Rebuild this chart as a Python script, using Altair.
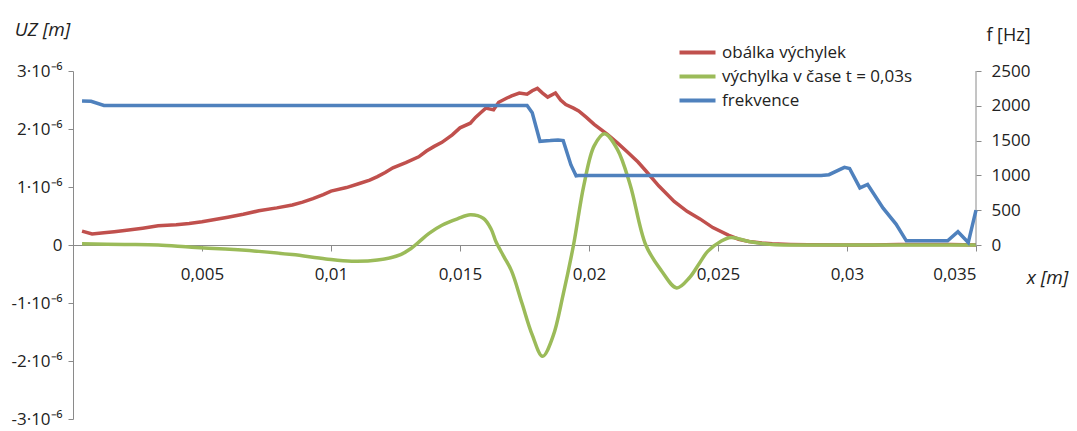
import altair as alt
import pandas as pd

# ---- data ----
names = ["obálka výchylek", "výchylka v čase t = 0,03s", "frekvence"]
colors = ["#c0504d", "#9bbb59", "#4f81bd"]

# envelope (UZ, in 1e-6 m)
env_x = [0.00035, 0.00074, 0.0012, 0.0016, 0.0020, 0.0027, 0.0033, 0.0040, 0.0045,
         0.0050, 0.0055, 0.0060, 0.0066, 0.0072, 0.0079, 0.0085, 0.0089, 0.0093,
         0.0097, 0.0100, 0.0106, 0.0111, 0.0115, 0.0118, 0.0121, 0.0124, 0.0129,
         0.0134, 0.0137, 0.0140, 0.0143, 0.0147, 0.0150, 0.0154, 0.0156, 0.0158,
         0.0160, 0.0163, 0.0165, 0.0168, 0.0170, 0.0173, 0.0176, 0.0178, 0.0180,
         0.0182, 0.0184, 0.0187, 0.0189, 0.0191, 0.0194, 0.0196, 0.0199, 0.0202,
         0.0207, 0.0211, 0.0215, 0.0219, 0.0222, 0.0227, 0.0233, 0.0238, 0.0243,
         0.0248, 0.0254, 0.0258, 0.0262, 0.0267, 0.0271, 0.0278, 0.0285, 0.0300,
         0.0310, 0.0320, 0.0330, 0.0340, 0.0350]
env_y = [0.24, 0.19, 0.21, 0.23, 0.25, 0.29, 0.33, 0.35, 0.37,
         0.40, 0.44, 0.48, 0.53, 0.59, 0.64, 0.69, 0.74, 0.80,
         0.87, 0.93, 0.99, 1.06, 1.12, 1.18, 1.25, 1.33, 1.42,
         1.52, 1.62, 1.70, 1.77, 1.90, 2.02, 2.10, 2.20, 2.28,
         2.36, 2.33, 2.46, 2.53, 2.57, 2.62, 2.60, 2.66, 2.70,
         2.62, 2.55, 2.62, 2.50, 2.42, 2.36, 2.31, 2.20, 2.08,
         1.91, 1.76, 1.60, 1.43, 1.28, 1.02, 0.75, 0.58, 0.45,
         0.30, 0.17, 0.10, 0.06, 0.035, 0.02, 0.01, 0.005, 0.0,
         0.0, 0.01, 0.01, 0.01, 0.0]

# displacement at t = 0.03 s (UZ, in 1e-6 m)
dis_x = [0.00035, 0.0020, 0.0033, 0.0046, 0.0059, 0.0072, 0.0085, 0.0098, 0.0108,
         0.0118, 0.0127, 0.0131, 0.0134, 0.0138, 0.0143, 0.0149, 0.0154, 0.0159,
         0.0162, 0.0164, 0.0167, 0.0170, 0.0174, 0.0178, 0.0182, 0.0186, 0.0190,
         0.0194, 0.0198, 0.0202, 0.0206, 0.0211, 0.0216, 0.0222, 0.0228, 0.0234,
         0.0239, 0.0243, 0.0246, 0.0251, 0.0255, 0.0262, 0.0271, 0.0280, 0.0300,
         0.0350]
dis_y = [0.02, 0.01, 0.0, -0.04, -0.07, -0.11, -0.165, -0.24, -0.28,
         -0.26, -0.165, -0.06, 0.05, 0.20, 0.34, 0.45, 0.52, 0.46,
         0.28, 0.05, -0.20, -0.45, -1.00, -1.55, -1.92, -1.58, -0.85,
         0.0, 1.03, 1.71, 1.92, 1.65, 1.03, 0.0, -0.44, -0.74,
         -0.56, -0.30, -0.11, 0.06, 0.13, 0.06, 0.01, 0.0, 0.0,
         0.0]

# frequency [Hz]
frq_x = [0.00035, 0.0007, 0.0012, 0.0176, 0.0178, 0.0181, 0.0185, 0.0188, 0.0190,
         0.0193, 0.0195, 0.0196, 0.0290, 0.0293, 0.0299, 0.0301, 0.0305, 0.0308,
         0.0314, 0.0319, 0.0323, 0.0339, 0.0343, 0.0347, 0.0350]
frq_y = [2070, 2065, 2005, 2005, 1900, 1490, 1500, 1510, 1500,
         1150, 995, 1000, 1000, 1010, 1115, 1100, 820, 870,
         530, 300, 60, 60, 190, 35, 500]

x_ticks = [0.005, 0.01, 0.015, 0.02, 0.025, 0.03, 0.035]
uz_ticks = [-3e-6, -2e-6, -1e-6, 0, 1e-6, 2e-6, 3e-6]
f_ticks = [0, 500, 1000, 1500, 2000, 2500]

# ---- tables ----
df_env = pd.DataFrame({"x": env_x, "uz": [v * 1e-6 for v in env_y], "s": names[0]})
df_dis = pd.DataFrame({"x": dis_x, "uz": [v * 1e-6 for v in dis_y], "s": names[1]})
df_frq = pd.DataFrame({"x": frq_x, "f": frq_y, "s": names[2]})
df_faxis = pd.DataFrame({"x": [x_ticks[-1]], "f": [f_ticks[0]], "f1": [f_ticks[-1]]})

FONT = "Open Sans"
GRAY = "#8a8a8a"
TXT = "#222222"
H = 348

x_enc = alt.X(
    "x:Q",
    scale=alt.Scale(domain=[0, 0.035], nice=False, zero=False),
    axis=alt.Axis(
        values=x_ticks,
        labelExpr="replace(format(datum.value, '.3~f'), '.', ',')",
        grid=False, offset=-H / 2, tickSize=6, labelPadding=15,
        domain=True, domainColor=GRAY, tickColor=GRAY, labelColor=TXT,
        labelFont=FONT, labelFontSize=17,
        title="x [m]", titleFont=FONT, titleFontSize=19, titleFontStyle="italic",
        titleFontWeight="normal", titleX=974, titleY=32, titleAlign="center",
        titleBaseline="middle", titleColor=TXT,
    ),
)

color_enc = alt.Color(
    "s:N",
    scale=alt.Scale(domain=names, range=colors),
    legend=alt.Legend(
        title=None, orient="none", legendX=616, legendY=-27, padding=0,
        symbolType="M-3,0H3", symbolSize=144, symbolStrokeWidth=4,
        labelFont=FONT, labelFontSize=17, labelColor=TXT, labelOffset=16,
        labelLimit=0, rowPadding=6,
    ),
)

uz_enc = alt.Y(
    "uz:Q",
    scale=alt.Scale(domain=[-3e-6, 3e-6], nice=False, zero=False),
    axis=alt.Axis(
        values=uz_ticks, grid=False, tickSize=5, labelPadding=6,
        labelExpr="datum.value == 0 ? '0' : round(datum.value * 1e6) + '·10⁻⁶'",
        domain=True, domainColor=GRAY, domainWidth=1, tickColor=GRAY, labelColor=TXT,
        labelFont=FONT, labelFontSize=17,
        title="UZ [m]", titleFont=FONT, titleFontSize=19, titleFontStyle="italic",
        titleFontWeight="normal", titleAngle=0, titleX=-31, titleY=-42,
        titleAlign="center", titleBaseline="middle", titleColor=TXT,
    ),
)

f_scale = alt.Scale(domain=[-2500, 2500], nice=False, zero=False)
f_axis = alt.Axis(
    orient="right", values=f_ticks, format="d", grid=False, domain=False, tickSize=5,
    labelPadding=10, tickColor=GRAY, labelColor=TXT,
    labelFont=FONT, labelFontSize=17,
    title="f [Hz]", titleFont=FONT, titleFontSize=18, titleFontWeight="normal",
    titleAngle=0, titleX=32, titleY=-36, titleAlign="center",
    titleBaseline="middle", titleColor=TXT,
)
f_enc = alt.Y("f:Q", scale=f_scale, axis=f_axis)

env = alt.Chart(df_env).mark_line(strokeWidth=3.5).encode(x=x_enc, y=uz_enc, color=color_enc)
dis = alt.Chart(df_dis).mark_line(strokeWidth=3.5, interpolate="catmull-rom").encode(
    x=x_enc, y=uz_enc, color=color_enc)
frq = alt.Chart(df_frq).mark_line(strokeWidth=3.5).encode(x=x_enc, y=f_enc, color=color_enc)
faxis = alt.Chart(df_faxis).mark_rule(color=GRAY, strokeWidth=1).encode(
    x=x_enc, y=f_enc, y2="f1:Q")

left = alt.layer(env, dis)
right = alt.layer(faxis, frq)

chart = (
    alt.layer(left, right)
    .resolve_scale(y="independent")
    .properties(
        width=903, height=H,
        padding={"left": 65, "top": 63, "right": 93, "bottom": 12},
        autosize=alt.AutoSizeParams(type="none"),
        background="white",
    )
    .configure_view(stroke=None)
)

chart.save("out.html", embed_options={"renderer": "svg", "actions": False})
